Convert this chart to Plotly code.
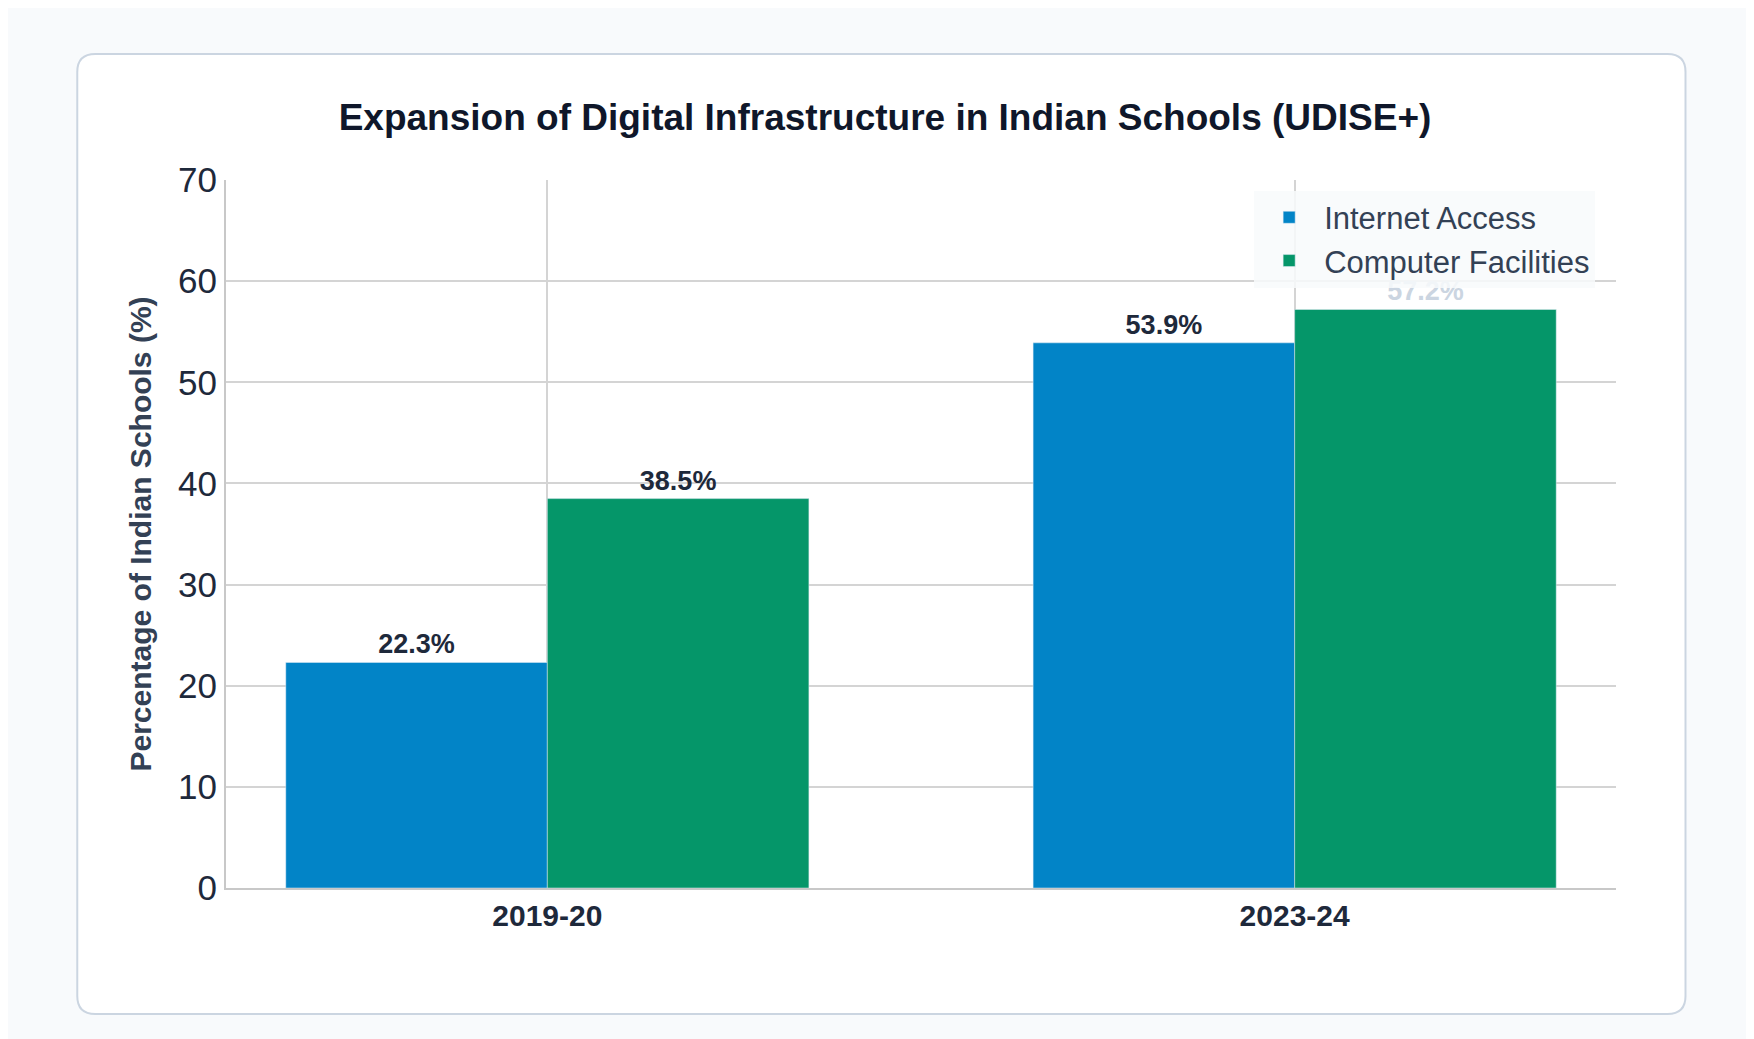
import plotly.graph_objects as go

years = ["2019-20", "2023-24"]
internet = [22.3, 53.9]
computer = [38.5, 57.2]

fig = go.Figure()
fig.add_bar(x=years, y=internet, name="Internet Access", marker_color="#0284c7",
            text=[f"{v}%" for v in internet], textposition="outside",
            textfont=dict(size=27, color="#1e293b", family="Liberation Sans", weight="bold"))
fig.add_bar(x=years, y=computer, name="Computer Facilities", marker_color="#059669",
            text=[f"{v}%" for v in computer], textposition="outside",
            textfont=dict(size=27, color=["#1e293b", "#cbd5e1"], family="Liberation Sans", weight="bold"))

x0, x1, y0, y1 = -0.107, 1.050, -0.178, 1.178
rx, ry = 18 / 1390, 18 / 708
card = (f"M {x0+rx},{y1} L {x1-rx},{y1} Q {x1},{y1} {x1},{y1-ry} L {x1},{y0+ry} "
        f"Q {x1},{y0} {x1-rx},{y0} L {x0+rx},{y0} Q {x0},{y0} {x0},{y0+ry} "
        f"L {x0},{y1-ry} Q {x0},{y1} {x0+rx},{y1} Z")

fig.update_layout(
    width=1754, height=1039,
    paper_bgcolor="#f8fafc", plot_bgcolor="white",
    margin=dict(l=218, r=146, t=172, b=159),
    barmode="group", bargap=0.3, bargroupgap=0,
    font=dict(family="Liberation Sans", color="#334155"),
    title=dict(text="<b>Expansion of Digital Infrastructure in Indian Schools (UDISE+)</b>",
               x=0.5, xanchor="center", y=0.895, yanchor="middle",
               font=dict(size=37, color="#0f172a")),
    legend=dict(x=0.985, y=0.985, xanchor="right", yanchor="top",
                bgcolor="rgba(248,250,252,0.85)", font=dict(size=31, color="#334155"),
                itemwidth=60),
    shapes=[dict(type="path", xref="paper", yref="paper", path=card,
                 line=dict(color="#cbd5e1", width=2), fillcolor="white", layer="below")],
)
fig.update_xaxes(range=[-0.43, 1.43], showgrid=True, gridcolor="#d4d4d4", gridwidth=2, showline=True,
                 linecolor="#c8c8c8", linewidth=2, tickfont=dict(size=30, color="#1e293b", weight="bold"))
fig.update_yaxes(range=[0, 70], dtick=10, showgrid=True, gridcolor="#d4d4d4", gridwidth=2,
                 showline=True, linecolor="#c8c8c8", linewidth=2, zeroline=False,
                 tickfont=dict(size=35, color="#1e293b"),
                 title=dict(text="<b>Percentage of Indian Schools (%)</b>", font=dict(size=30, color="#334155"), standoff=18))
fig.write_html("out.html")
